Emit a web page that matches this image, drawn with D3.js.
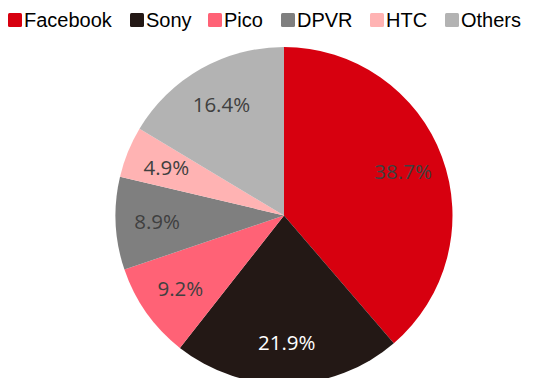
<!DOCTYPE html>
<html>
<head>
<meta charset="utf-8">
<script src="https://cdn.jsdelivr.net/npm/d3@7"></script>
<style>
  body { margin: 0; background: #fff; }
  svg { display: block; }
</style>
</head>
<body>
<svg id="chart" width="553" height="378"></svg>
<script>
var brands = ['Facebook', 'Sony', 'Pico', 'DPVR', 'HTC', 'Others'];
var shares = [38.7, 21.9, 9.2, 8.9, 4.9, 16.4];
var colors = ['#D7000F', '#231815', '#FF6276', '#7F7F7F', '#FFB3B3', '#B3B3B3'];
var labelColors = ['#404040', '#ffffff', '#404040', '#404040', '#404040', '#404040'];

var svg = d3.select('#chart');
var cx = 284, cy = 215.5, radius = 168.5;

var data = brands.map(function(b, i) {
  return {brand: b, value: shares[i], i: i};
});

var pie = d3.pie()
  .sort(null)
  .value(function(d) { return d.value; });

var arc = d3.arc().innerRadius(0).outerRadius(radius);
var labelArc = d3.arc().innerRadius(127).outerRadius(127);

var g = svg.append('g').attr('transform', 'translate(' + cx + ',' + cy + ')');

var slices = g.selectAll('g.slice')
  .data(pie(data))
  .enter().append('g')
  .attr('class', 'slice');

slices.append('path')
  .attr('d', arc)
  .attr('fill', function(d) { return colors[d.data.i]; });

slices.append('text')
  .attr('transform', function(d) { return 'translate(' + labelArc.centroid(d) + ')'; })
  .attr('text-anchor', 'middle')
  .attr('dy', '0.36em')
  .style('font-family', '"Open Sans", "Noto Sans", sans-serif')
  .style('font-size', '20.5px')
  .attr('fill', function(d) { return labelColors[d.data.i]; })
  .text(function(d) { return d.data.value.toFixed(1) + '%'; });

// legend across the top
var legendX = [8, 130, 208, 281, 370, 445];
var legend = svg.append('g').attr('class', 'legend');
var items = legend.selectAll('g')
  .data(data)
  .enter().append('g')
  .attr('transform', function(d) { return 'translate(' + legendX[d.i] + ',0)'; });

items.append('rect')
  .attr('x', 0).attr('y', 13)
  .attr('width', 14).attr('height', 14)
  .attr('rx', 1.5)
  .attr('fill', function(d) { return colors[d.i]; });

items.append('text')
  .attr('x', 16).attr('y', 27)
  .style('font-family', '"Liberation Sans", Arial, sans-serif')
  .style('font-size', '20px')
  .attr('fill', '#000')
  .text(function(d) { return d.brand; });
</script>
</body>
</html>
